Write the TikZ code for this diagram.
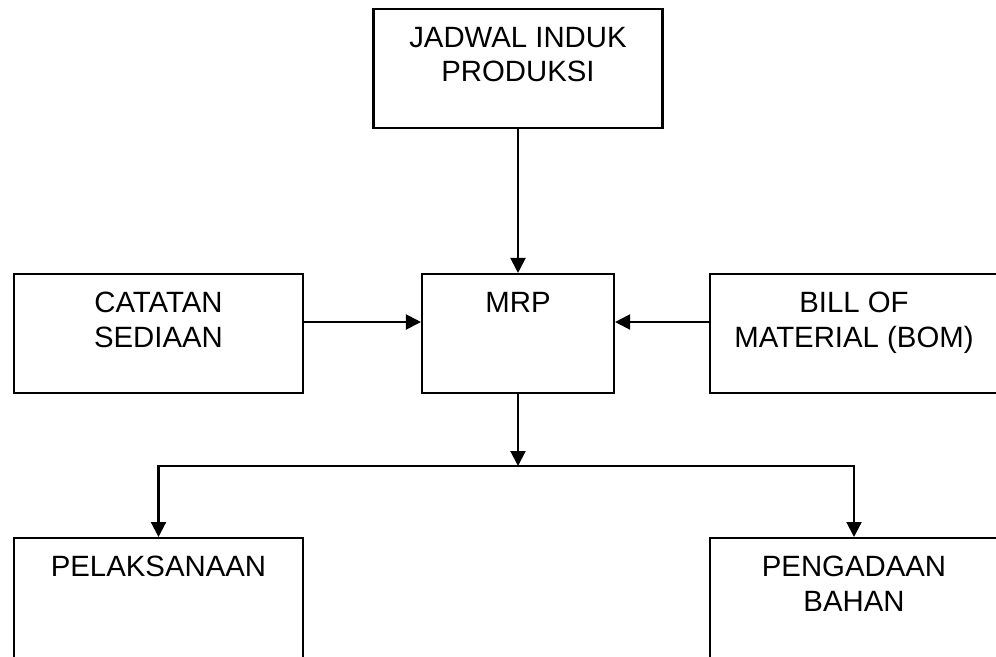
\documentclass[tikz,border=0pt]{standalone}
\usepackage{fontspec}
\setmainfont{Liberation Sans}
\usetikzlibrary{arrows.meta}

\tikzset{
	kotak/.style={draw,line width=1.2pt,minimum height=2.38cm,inner sep=0pt},
	isi/.style={anchor=north,align=center,inner sep=0pt,yshift=-0.38cm,font=\fontsize{16.7}{19.6}\selectfont},
	panah/.style={line width=1.2pt,-{Triangle[length=0.3cm,width=0.3cm]}}
}

\begin{document}
\begin{tikzpicture}
		\path[use as bounding box,clip] (0,0) rectangle (19.92,13.12);
		\node[kotak,minimum width=5.78cm] (jadwal) at (10.36,11.75) {};
		\node[kotak,minimum width=5.78cm] (catatan) at (3.17,6.45) {};
		\node[kotak,minimum width=3.84cm] (mrp) at (10.36,6.45) {};
		\node[kotak,minimum width=5.76cm] (bom) at (17.08,6.45) {};
		\node[kotak,minimum width=5.78cm,minimum height=2.8cm,anchor=north] (pelaksanaan) at (3.17,2.38) {};
		\node[kotak,minimum width=5.76cm,minimum height=2.8cm,anchor=north] (pengadaan) at (17.08,2.38) {};
		\node[isi] (tjadwal) at (jadwal.north) {JADWAL INDUK\\PRODUKSI};
		\node[isi] (tcatatan) at (catatan.north) {CATATAN\\SEDIAAN};
		\node[isi] (tmrp) at (mrp.north) {MRP};
		\node[isi] (tbom) at (bom.north) {BILL OF\\MATERIAL (BOM)};
		\node[isi] (tpelaksanaan) at (pelaksanaan.north) {PELAKSANAAN};
		\node[isi] (tpengadaan) at (pengadaan.north) {PENGADAAN\\BAHAN};
		\coordinate (cabang) at (mrp.south |- 0,3.8);
		\draw[panah] (jadwal.south) -- (mrp.north);
		\draw[panah] ([yshift=0.23cm]catatan.east) -- ([yshift=0.23cm]mrp.west);
		\draw[panah] ([yshift=0.23cm]bom.west) -- ([yshift=0.23cm]mrp.east);
		\draw[panah] (mrp.south) -- (cabang);
		\draw[panah] (cabang) -| (pelaksanaan.north);
		\draw[panah] (cabang) -| (pengadaan.north);
	\end{tikzpicture}
\end{document}
